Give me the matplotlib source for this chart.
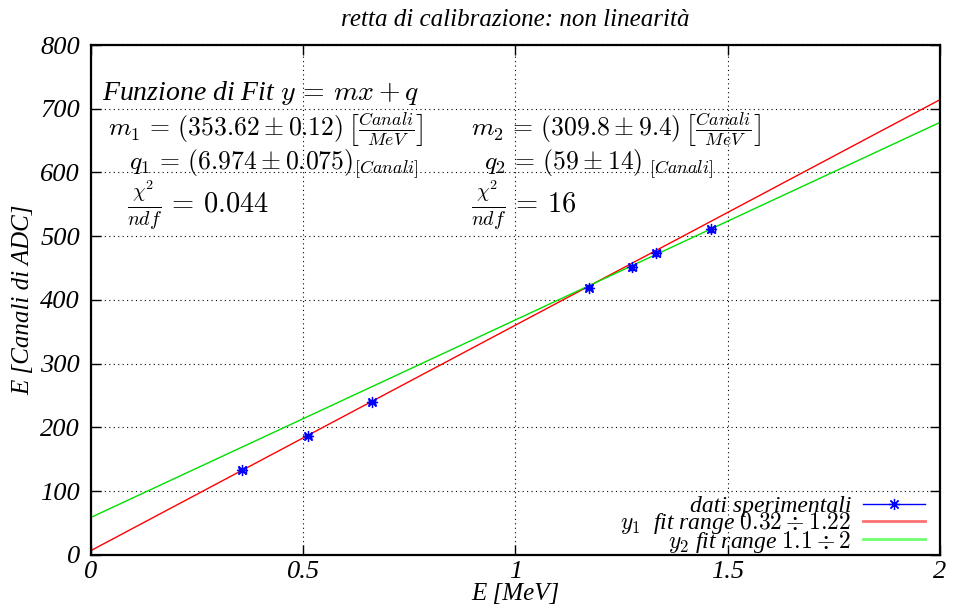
import numpy as np
import matplotlib.pyplot as plt

# Energies of the calibration lines (MeV) and measured channels
energia = [0.356, 0.511, 0.662, 1.173, 1.275, 1.332, 1.461]
canali = [133, 187, 240, 419, 451, 473, 511]
err_e = [0.008, 0.008, 0.008, 0.008, 0.008, 0.008, 0.008]
err_c = [3, 3, 3, 4, 4, 4, 4]

# fit parameters
m1, q1 = 353.62, 6.974
m2, q2 = 309.8, 59.0

xticks = [0, 0.5, 1, 1.5, 2]
xticklabels = ['0', '0.5', '1', '1.5', '2']
yticks = [0, 100, 200, 300, 400, 500, 600, 700, 800]

plt.rcParams['font.family'] = ['Liberation Serif', 'DejaVu Serif']
plt.rcParams['font.style'] = 'italic'
plt.rcParams['mathtext.fontset'] = 'cm'

fig = plt.figure(figsize=(9.54, 6.09), dpi=100)
ax = fig.add_axes([0.0954, 0.0887, 0.8899, 0.8374])

xx = np.array([0, 2])
ax.errorbar(energia, canali, xerr=err_e, yerr=err_c, fmt='none', ecolor='blue',
            elinewidth=1.0, capsize=3, zorder=3)
ax.plot(energia, canali, ls='none', marker=(8, 2, 0), ms=8, mec='blue', mew=0.9, zorder=4)
ax.plot(xx, m1 * xx + q1, color='red', lw=1.0, zorder=2)
ax.plot(xx, m2 * xx + q2, color='#00e000', lw=1.0, zorder=2)

# legend handles
hd, = ax.plot([], [], ls='-', color='blue', lw=1, marker=(8, 2, 0), ms=8, mew=0.9)
h1, = ax.plot([], [], color='#ff7070', lw=2)
h2, = ax.plot([], [], color='#70ff70', lw=2)
leg = ax.legend([hd, h1, h2],
                ['dati sperimentali', r'$y_1$  fit range $0.32 \div 1.22$',
                 r'$y_2$ fit range $1.1 \div 2$'],
                loc='lower right', bbox_to_anchor=(0.993, -0.018),
                markerfirst=False, frameon=False, fontsize=17,
                handlelength=2.6, labelspacing=-0.3, borderaxespad=0,
                handletextpad=0.5)

ax.set_xlim(0, 2)
ax.set_ylim(0, 800)
ax.set_xticks(xticks)
ax.set_xticklabels(xticklabels)
ax.set_yticks(yticks)
ax.tick_params(direction='in', length=7, width=1, top=True, right=True,
               labelsize=19, pad=8)
ax.tick_params(axis='x', pad=4)
ax.grid(True, color='black', ls=(0, (1, 3)), lw=0.8)
for s in ax.spines.values():
    s.set_linewidth(1.6)

ax.set_xlabel('E [MeV]', fontsize=18, labelpad=0)
ax.set_ylabel('E [Canali di ADC]', fontsize=18, labelpad=4)
ax.set_title('retta di calibrazione: non linearità', fontsize=18, pad=14)

fs = 18.5
ax.text(0.025, 725, r'Funzione di Fit $y\, =\, mx + q$', fontsize=20, va='center')
ax.text(0.04, 668, r'$m_1\, =\, (353.62 \pm 0.12)\,\left[\frac{\mathit{Canali}}{\mathit{MeV}}\right]$',
        fontsize=fs, va='center')
ax.text(0.895, 668, r'$m_2\, =\, (309.8 \pm 9.4)\,\left[\frac{\mathit{Canali}}{\mathit{MeV}}\right]$',
        fontsize=fs, va='center')
ax.text(0.09, 612, r'$q_1\, =\, (6.974 \pm 0.075)_{\mathit{[Canali]}}$', fontsize=fs, va='center')
ax.text(0.925, 612, r'$q_2\, =\, (59 \pm 14)_{\ \mathit{[Canali]}}$', fontsize=fs, va='center')
ax.text(0.085, 549, r'$\frac{\chi^2}{ndf}\, =\, 0.044$', fontsize=fs + 2, va='center')
ax.text(0.895, 549, r'$\frac{\chi^2}{ndf}\, =\, 16$', fontsize=fs + 2, va='center')

plt.savefig('out.png', dpi=100)
